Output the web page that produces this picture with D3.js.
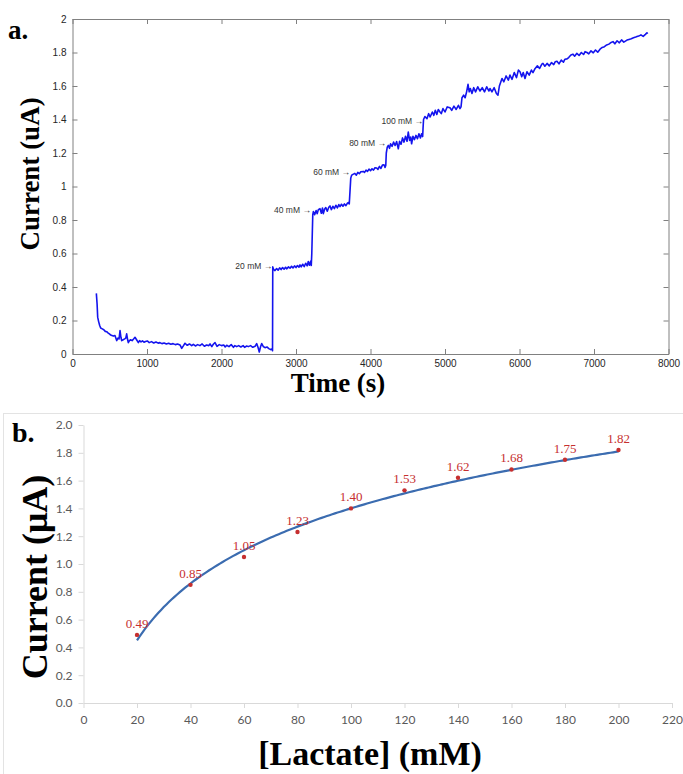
<!DOCTYPE html>
<html>
  <head>
    <meta charset="utf-8">
    <title></title>
    <style>
      body { margin: 0; background: #fff; }
      .tickA text { font-family: "Liberation Sans", Arial, sans-serif; font-size: 10px; fill: #262626; }
      .tickB text { font-family: Lato, "Open Sans", sans-serif; font-size: 12px; fill: #595959; }
      .title { font-family: "Liberation Serif", "Times New Roman", serif; font-weight: bold; fill: #000; }
    </style>
  </head>
  <body>

    <div id="chart"></div>
    <script src="https://d3js.org/d3.v7.min.js" charset="utf-8"></script>
    <script>

      // panel a: chronoamperometry trace (time in s, current in uA)
      const traceT = [320,330,338,350,365,378,400,420,440,459,480,500,520,548,570,593,610,625,638,650,660,680,700,715,727,740,749,765,780,800,820,839,860,884,900,920,940,960,980,1004,1030,1060,1090,1120,1150,1174,1200,1230,1260,1290,1320,1350,1380,1410,1443,1466,1490,1510,1540,1570,1600,1622,1650,1680,1710,1740,1770,1800,1830,1846,1870,1890,1913,1940,1970,2000,2030,2050,2070,2100,2130,2160,2180,2204,2230,2260,2290,2310,2338,2360,2390,2420,2450,2472,2490,2507,2525,2540,2560,2584,2610,2635,2660,2675,2685,
        2688,2700,2718,2740,2760,2780,2800,2820,2840,2860,2875,2900,2920,2940,2960,2980,3000,3020,3040,3054,3070,3090,3110,3130,3150,3165,3180,3198,3205,3212,
        3225,3233,3250,3270,3285,3300,3322,3340,3355,3367,3385,3400,3420,3440,3456,3475,3495,3515,3535,3555,3575,3591,3610,3630,3650,3670,3690,3702,3715,3722,
        3735,3748,3770,3790,3810,3830,3850,3870,3903,3920,3940,3960,3980,4000,4020,4040,4060,4083,4100,4120,4140,4160,4181,4195,4205,4212,
        4225,4239,4255,4270,4290,4310,4330,4351,4373,4390,4410,4430,4450,4470,4490,4507,4525,4540,4552,4570,4590,4610,4630,4650,4670,4686,4700,4705,
        4712,4730,4758,4780,4800,4830,4850,4870,4890,4910,4933,4950,4973,5000,5030,5067,5090,5120,5150,5180,5201,5215,
        5228,5250,5270,5290,5309,5325,5340,5362,5385,5410,5440,5470,5500,5530,5560,5590,5604,5630,5660,5690,5711,
        5730,5765,5790,5820,5850,5872,5900,5930,5960,5985,6007,6030,6050,6074,6100,6130,6160,6181,6210,6240,6270,6300,6315,6340,6370,6400,6430,6460,6480,6503,6530,6560,6590,6610,6638,6660,6690,6718,6740,6770,6800,6830,6860,6880,6906,6930,6960,6990,7020,7050,7081,7110,7140,7170,7200,7230,7255,7280,7310,7340,7370,7400,7443,7470,7500,7530,7560,7577,7600,7630,7660,7690,7711,7720];
      const traceI = [0.362,0.30,0.22,0.195,0.17,0.155,0.15,0.145,0.135,0.133,0.125,0.118,0.112,0.107,0.11,0.08,0.095,0.09,0.14,0.10,0.08,0.085,0.09,0.095,0.12,0.085,0.068,0.08,0.085,0.08,0.09,0.10,0.085,0.068,0.08,0.072,0.078,0.07,0.075,0.078,0.068,0.074,0.066,0.072,0.065,0.068,0.062,0.066,0.06,0.064,0.058,0.062,0.056,0.06,0.054,0.034,0.05,0.064,0.052,0.06,0.05,0.058,0.048,0.056,0.05,0.06,0.046,0.054,0.05,0.06,0.044,0.058,0.068,0.046,0.056,0.05,0.054,0.042,0.052,0.044,0.056,0.04,0.05,0.044,0.05,0.042,0.05,0.04,0.048,0.044,0.05,0.04,0.046,0.062,0.04,0.012,0.045,0.062,0.045,0.038,0.042,0.032,0.026,0.03,0.02,
        0.52,0.505,0.498,0.51,0.50,0.514,0.504,0.516,0.506,0.518,0.508,0.52,0.512,0.524,0.514,0.526,0.516,0.528,0.518,0.532,0.52,0.536,0.522,0.542,0.526,0.552,0.53,0.555,0.528,0.60,
        0.83,0.85,0.832,0.856,0.838,0.862,0.868,0.84,0.872,0.838,0.866,0.874,0.852,0.876,0.884,0.862,0.882,0.868,0.888,0.872,0.892,0.88,0.894,0.882,0.896,0.886,0.9,0.904,0.896,0.95,
        1.05,1.068,1.074,1.078,1.068,1.084,1.076,1.088,1.09,1.084,1.098,1.09,1.104,1.094,1.106,1.098,1.112,1.11,1.102,1.12,1.108,1.128,1.13,1.114,1.125,1.20,
        1.235,1.245,1.228,1.255,1.24,1.265,1.245,1.268,1.225,1.27,1.252,1.29,1.265,1.3,1.27,1.325,1.275,1.295,1.255,1.3,1.28,1.305,1.285,1.315,1.29,1.315,1.298,1.345,
        1.40,1.418,1.405,1.435,1.415,1.445,1.425,1.455,1.43,1.46,1.445,1.435,1.465,1.445,1.475,1.47,1.455,1.48,1.46,1.485,1.465,1.475,
        1.53,1.545,1.53,1.565,1.61,1.565,1.585,1.555,1.59,1.565,1.595,1.57,1.59,1.565,1.595,1.57,1.585,1.565,1.59,1.555,1.545,
        1.60,1.645,1.625,1.66,1.635,1.665,1.64,1.68,1.65,1.695,1.685,1.655,1.68,1.645,1.685,1.665,1.695,1.68,1.705,1.72,1.705,1.73,1.735,1.718,1.735,1.72,1.74,1.728,1.745,1.748,1.732,1.755,1.742,1.76,1.762,1.77,1.785,1.79,1.778,1.795,1.782,1.8,1.788,1.805,1.8,1.792,1.81,1.798,1.815,1.802,1.82,1.83,1.835,1.845,1.85,1.86,1.865,1.852,1.87,1.858,1.875,1.862,1.874,1.878,1.882,1.888,1.892,1.895,1.898,1.905,1.896,1.908,1.918,1.912];

      // additions marked on the trace
      const stepLabels = ['20 mM', '40 mM', '60 mM', '80 mM', '100 mM'];
      const stepT = [2680, 3200, 3725, 4208, 4705];
      const stepI = [0.527, 0.86, 1.085, 1.258, 1.393];

      const xTicksA = [0, 1000, 2000, 3000, 4000, 5000, 6000, 7000, 8000];
      const yTicksA = [0, 0.2, 0.4, 0.6, 0.8, 1, 1.2, 1.4, 1.6, 1.8, 2];

      // panel b: calibration
      const lactate = [20, 40, 60, 80, 100, 120, 140, 160, 180, 200];
      const current = [0.49, 0.85, 1.05, 1.23, 1.40, 1.53, 1.62, 1.68, 1.75, 1.82];
      const xTicksB = d3.range(0, 221, 20);
      const yTicksB = [0, 0.2, 0.4, 0.6, 0.8, 1.0, 1.2, 1.4, 1.6, 1.8, 2.0];

      const width = 683;
      const height = 774;

      const svg = d3.select('#chart')
                    .append('svg')
                    .attr('width', width)
                    .attr('height', height)

      // ---------- panel a ----------
      const xA = d3.scaleLinear().domain([0, 8000]).range([72.5, 668.5]);
      const yA = d3.scaleLinear().domain([0, 2]).range([354, 19]);
      const axisCol = '#808080';

      const a = svg.append('g')

      const bottomA = a.append('g').attr('class', 'tickA')
        .attr('transform', `translate(0,${yA(0)})`)
        .call(d3.axisBottom(xA).tickValues(xTicksA).tickSizeInner(-5).tickSizeOuter(0).tickPadding(6).tickFormat(d3.format('d')));
      const leftA = a.append('g').attr('class', 'tickA')
        .attr('transform', `translate(${xA(0)},0)`)
        .call(d3.axisLeft(yA).tickValues(yTicksA).tickSizeInner(-5).tickSizeOuter(0).tickPadding(6).tickFormat(d => d3.format('~g')(d)));
      const topA = a.append('g')
        .attr('transform', `translate(0,${yA(2)})`)
        .call(d3.axisTop(xA).tickValues(xTicksA).tickSizeInner(-5).tickSizeOuter(0).tickFormat(''));
      const rightA = a.append('g')
        .attr('transform', `translate(${xA(8000)},0)`)
        .call(d3.axisRight(yA).tickValues(yTicksA).tickSizeInner(-5).tickSizeOuter(0).tickFormat(''));

      [bottomA, leftA, topA, rightA].forEach(g => {
        g.selectAll('path.domain').attr('stroke', axisCol);
        g.selectAll('line').attr('stroke', axisCol);
      });

      const line = d3.line()
        .x((d, i) => xA(traceT[i]))
        .y((d, i) => yA(traceI[i]));

      a.append('path')
        .datum(traceI)
        .attr('d', line)
        .attr('fill', 'none')
        .attr('stroke', '#1414ee')
        .attr('stroke-width', 1.6)
        .attr('stroke-linejoin', 'round');

      a.selectAll('text.step').data(stepLabels).enter()
        .append('text')
        .attr('class', 'step')
        .attr('x', (d, i) => xA(stepT[i]))
        .attr('y', (d, i) => yA(stepI[i]) + 3)
        .attr('text-anchor', 'end')
        .attr('font-family', '"Liberation Sans", Arial, sans-serif')
        .attr('font-size', 8.5)
        .attr('fill', '#333')
        .text(d => d + ' \u2192');

      a.append('text').attr('class', 'title')
        .attr('x', 8).attr('y', 39)
        .attr('font-size', 27)
        .text('a.');

      a.append('text').attr('class', 'title')
        .attr('x', 338).attr('y', 392)
        .attr('text-anchor', 'middle')
        .attr('font-size', 27)
        .text('Time (s)');

      a.append('text').attr('class', 'title')
        .attr('transform', 'translate(39,174) rotate(-90)')
        .attr('text-anchor', 'middle')
        .attr('font-size', 27)
        .text('Current (uA)');

      // ---------- panel b ----------
      const xB = d3.scaleLinear().domain([0, 220]).range([83.5, 672]);
      const yB = d3.scaleLinear().domain([0, 2]).range([703, 425]);
      const gridCol = '#d9d9d9';

      const b = svg.append('g')

      b.append('rect')
        .attr('x', 3.5).attr('y', 413.5)
        .attr('width', 700).attr('height', 400)
        .attr('fill', 'none')
        .attr('stroke', '#e3e3e3');

      const leftB = b.append('g').attr('class', 'tickB')
        .attr('transform', `translate(${xB(0)},0)`)
        .call(d3.axisLeft(yB).tickValues(yTicksB).tickSizeInner(5).tickSizeOuter(0).tickPadding(6).tickFormat(d3.format('.1f')));
      const bottomB = b.append('g').attr('class', 'tickB')
        .attr('transform', `translate(0,${yB(0)})`)
        .call(d3.axisBottom(xB).tickValues(xTicksB).tickSizeInner(5).tickSizeOuter(0).tickPadding(7).tickFormat(d3.format('d')));

      [leftB, bottomB].forEach(g => {
        g.selectAll('path.domain').attr('stroke', gridCol);
        g.selectAll('line').attr('stroke', gridCol);
      });

      // logarithmic trendline fitted to the points
      const lx = lactate.map(Math.log);
      const mx = d3.mean(lx);
      const my = d3.mean(current);
      const slope = d3.sum(lx, (v, i) => (v - mx) * (current[i] - my)) / d3.sum(lx, v => (v - mx) * (v - mx));
      const icpt = my - slope * mx;
      const fitX = d3.range(lactate[0], lactate[lactate.length - 1] + 0.5, 1);

      b.append('path')
        .datum(fitX)
        .attr('d', d3.line().x(d => xB(d)).y(d => yB(slope * Math.log(d) + icpt)))
        .attr('fill', 'none')
        .attr('stroke', '#3b6cb0')
        .attr('stroke-width', 2.2);

      b.selectAll('circle').data(current).enter()
        .append('circle')
        .attr('cx', (d, i) => xB(lactate[i]))
        .attr('cy', d => yB(d))
        .attr('r', 2.2)
        .attr('fill', '#c62f2f');

      b.selectAll('text.lab').data(current).enter()
        .append('text')
        .attr('class', 'lab')
        .attr('x', (d, i) => xB(lactate[i]))
        .attr('y', d => yB(d) - 7)
        .attr('text-anchor', 'middle')
        .attr('font-family', '"Liberation Serif", "Times New Roman", serif')
        .attr('font-size', 13)
        .attr('fill', '#c62f2f')
        .text(d => d.toFixed(2));

      b.append('text').attr('class', 'title')
        .attr('x', 12).attr('y', 442)
        .attr('font-size', 28)
        .text('b.');

      b.append('text').attr('class', 'title')
        .attr('x', 370).attr('y', 765)
        .attr('text-anchor', 'middle')
        .attr('font-size', 34)
        .text('[Lactate] (mM)');

      b.append('text').attr('class', 'title')
        .attr('transform', 'translate(47,577) rotate(-90)')
        .attr('text-anchor', 'middle')
        .attr('font-size', 36)
        .text('Current (\u03bcA)');

    </script>

  </body>
</html>
